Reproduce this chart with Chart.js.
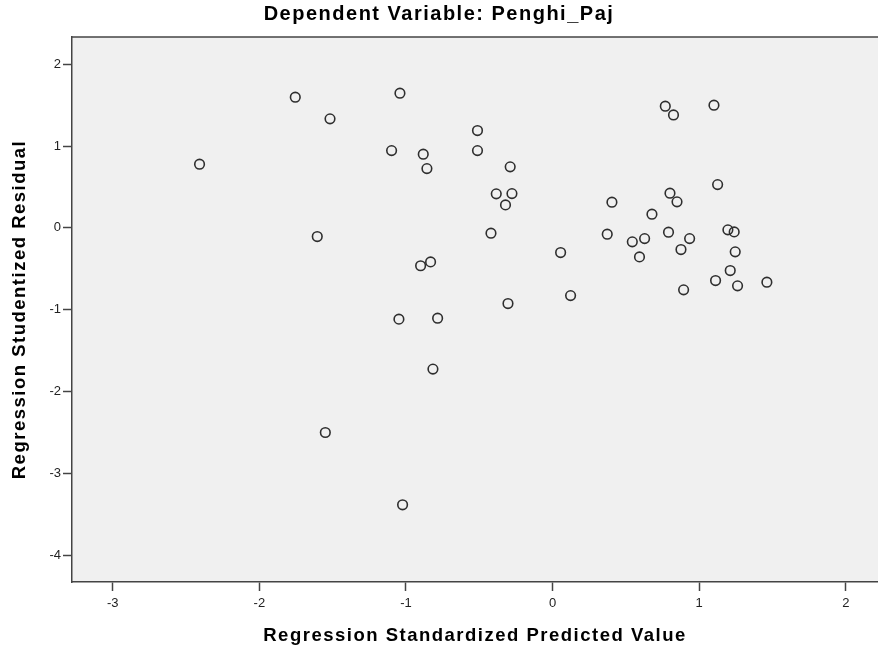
<!DOCTYPE html>
<html>
<head>
<meta charset="utf-8">
<script src="https://cdn.jsdelivr.net/npm/chart.js@4/dist/chart.umd.min.js"></script>
<style>
  html, body { margin: 0; padding: 0; background: #ffffff; }
  #c { display: block; }
</style>
</head>
<body>
<canvas id="c" width="878" height="652"></canvas>
<script>
const chartTitle = "Dependent Variable: Penghi_Paj";
const xAxisTitle = "Regression Standardized Predicted Value";
const yAxisTitle = "Regression Studentized Residual";

const xTicks = [-3, -2, -1, 0, 1, 2];
const yTicks = [-4, -3, -2, -1, 0, 1, 2];

const predictedValues = [
  -2.408, -1.755, -1.518, -1.605, -1.550, -1.098, -1.041, -1.048, -1.023, -0.882,
  -0.857, -0.900, -0.832, -0.784, -0.816, -0.512, -0.512, -0.384, -0.420, -0.321,
  -0.289, -0.277, -0.304, 0.055, 0.123, 0.373, 0.405, 0.544, 0.593, 0.628,
  0.678, 0.769, 0.825, 0.791, 0.801, 0.849, 0.876, 0.894, 0.935, 1.101,
  1.126, 1.112, 1.196, 1.239, 1.246, 1.212, 1.262, 1.462
];
const studentizedResiduals = [
  0.779, 1.598, 1.333, -0.106, -2.502, 0.945, 1.647, -1.116, -3.386, 0.901,
  0.725, -0.463, -0.416, -1.104, -1.727, 1.190, 0.945, 0.416, -0.065, 0.281,
  0.746, 0.419, -0.925, -0.302, -0.828, -0.077, 0.314, -0.171, -0.355, -0.131,
  0.167, 1.488, 1.381, -0.053, 0.424, 0.318, -0.265, -0.758, -0.131, 1.500,
  0.529, -0.644, -0.024, -0.049, -0.293, -0.522, -0.709, -0.664
];

const points = predictedValues.map((x, i) => ({ x: x, y: studentizedResiduals[i] }));

const FONT = '"Liberation Sans", Arial, sans-serif';
const AXIS_COLOR = '#444444';
const TITLE_SPACING = '1.5px';

function withSpacing(fn, ctxGetter) {
  return function () {
    const ctx = ctxGetter(this);
    const prev = ctx.letterSpacing;
    ctx.letterSpacing = TITLE_SPACING;
    try { return fn.apply(this, arguments); }
    finally { ctx.letterSpacing = prev || '0px'; }
  };
}

const plotBackground = {
  id: 'plotBackground',
  afterLayout(chart) {
    Object.values(chart.scales).forEach(s => {
      if (!s._spacingPatched) {
        s.drawTitle = withSpacing(s.drawTitle, o => o.ctx);
        s._spacingPatched = true;
      }
    });
    const tb = chart.titleBlock;
    if (tb && !tb._spacingPatched) {
      tb.draw = withSpacing(tb.draw, o => o.ctx);
      tb._spacingPatched = true;
    }
  },
  beforeDraw(chart) {
    const { ctx, chartArea: a } = chart;
    ctx.letterSpacing = '0px';
    ctx.save();
    ctx.fillStyle = '#f0f0f0';
    ctx.fillRect(a.left, a.top, a.right - a.left, a.bottom - a.top);
    ctx.restore();
  },
  afterDraw(chart) {
    const { ctx, chartArea: a } = chart;
    ctx.save();
    ctx.strokeStyle = AXIS_COLOR;
    ctx.lineWidth = 1.5;
    ctx.beginPath();
    ctx.moveTo(a.left, a.top);
    ctx.lineTo(a.right, a.top);
    ctx.stroke();
    ctx.restore();
  }
};

new Chart(document.getElementById('c'), {
  type: 'scatter',
  data: {
    datasets: [{
      data: points,
      pointStyle: 'circle',
      pointRadius: 4.8,
      pointHoverRadius: 4.8,
      pointBorderWidth: 1.6,
      borderColor: '#2e2e2e',
      backgroundColor: 'rgba(0,0,0,0)'
    }]
  },
  options: {
    responsive: false,
    animation: false,
    devicePixelRatio: 1,
    layout: { padding: 0, autoPadding: false },
    plugins: {
      legend: { display: false },
      tooltip: { enabled: false },
      title: {
        display: true,
        text: chartTitle,
        color: '#000000',
        font: { family: FONT, size: 20, weight: 'bold', lineHeight: 1.2 },
        padding: { top: 2, bottom: 11 }
      }
    },
    scales: {
      x: {
        type: 'linear',
        min: -3.278,
        max: 2.22,
        afterFit(scale) { scale.height = 70; scale.paddingLeft = 0; scale.paddingRight = 0; },
        afterBuildTicks(scale) { scale.ticks = xTicks.map(v => ({ value: v })); },
        ticks: {
          color: '#222222',
          font: { family: FONT, size: 13 },
          padding: 5,
          maxRotation: 0
        },
        grid: {
          drawOnChartArea: false,
          drawTicks: true,
          tickLength: 9,
          tickColor: AXIS_COLOR,
          tickWidth: 1.5
        },
        border: { display: true, color: AXIS_COLOR, width: 1.5 },
        title: {
          display: true,
          text: xAxisTitle,
          color: '#000000',
          font: { family: FONT, size: 18.5, weight: 'bold', lineHeight: 1.2 },
          padding: { top: 0, bottom: 5 }
        }
      },
      y: {
        type: 'linear',
        min: -4.33,
        max: 2.334,
        afterFit(scale) { scale.width = 72; scale.paddingTop = 0; scale.paddingBottom = 0; },
        afterBuildTicks(scale) { scale.ticks = yTicks.map(v => ({ value: v })); },
        ticks: {
          color: '#222222',
          font: { family: FONT, size: 13 },
          padding: 2
        },
        grid: {
          drawOnChartArea: false,
          drawTicks: true,
          tickLength: 9,
          tickColor: AXIS_COLOR,
          tickWidth: 1.5
        },
        border: { display: true, color: AXIS_COLOR, width: 1.5 },
        title: {
          display: true,
          text: yAxisTitle,
          color: '#000000',
          font: { family: FONT, size: 18.5, weight: 'bold', lineHeight: 1.2 },
          padding: { top: 9, bottom: 0 }
        }
      }
    }
  },
  plugins: [plotBackground]
});
</script>
</body>
</html>
